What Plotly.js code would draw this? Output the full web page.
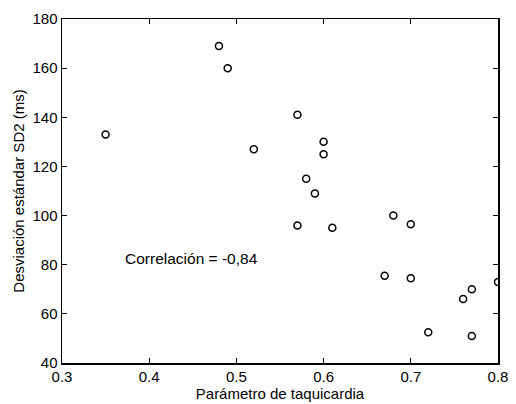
<!DOCTYPE html>
<html>
<head>
<meta charset="utf-8">
<script src="https://cdn.plot.ly/plotly-3.0.1.min.js"></script>
<style>html,body{margin:0;padding:0;background:#fff;}#chart{width:516px;height:404px;}</style>
</head>
<body>
<div id="chart"></div>
<script>
var taquicardia = [0.35, 0.48, 0.49, 0.52, 0.57, 0.60, 0.60, 0.58, 0.59, 0.57, 0.61, 0.68, 0.70, 0.67, 0.70, 0.80, 0.77, 0.76, 0.72, 0.77];
var sd2 = [133, 169, 160, 127, 141, 130, 125, 115, 109, 96, 95, 100, 96.5, 75.5, 74.5, 73, 70, 66, 52.5, 51];
var xTicks = [0.3, 0.4, 0.5, 0.6, 0.7, 0.8];
var xTickText = ['0.3', '0.4', '0.5', '0.6', '0.7', '0.8'];
var yTicks = [40, 60, 80, 100, 120, 140, 160, 180];
var correlationText = 'Correlación = -0,84';

var font = 'Liberation Sans, Arial, sans-serif';
var trace = {
  x: taquicardia, y: sd2, type: 'scatter', mode: 'markers',
  marker: {symbol: 'circle-open', size: 7, color: '#000', line: {width: 1.5, color: '#000'}},
  cliponaxis: true, hoverinfo: 'none'
};
var axisCommon = {
  showgrid: false, zeroline: false, showline: true, linecolor: '#000', linewidth: 1.5,
  mirror: 'ticks', ticks: 'inside', ticklen: 5, tickwidth: 1, tickcolor: '#000',
  tickfont: {family: font, size: 15, color: '#000'}
};
var layout = {
  width: 516, height: 404,
  margin: {l: 62, r: 18, t: 19, b: 41},
  paper_bgcolor: '#fff', plot_bgcolor: '#fff',
  showlegend: false,
  xaxis: Object.assign({}, axisCommon, {
    range: [0.3, 0.8], tickvals: xTicks, ticktext: xTickText, ticklabelstandoff: -1,
    title: {text: 'Parámetro de taquicardia', font: {family: font, size: 15, color: '#000'}, standoff: 2}
  }),
  yaxis: Object.assign({}, axisCommon, {
    range: [40, 180], tickvals: yTicks, ticklabelstandoff: 0,
    title: {text: 'Desviación estándar SD2 (ms)', font: {family: font, size: 15, color: '#000'}, standoff: 4}
  }),
  annotations: [{
    x: 0.37, y: 82.7, xref: 'x', yref: 'y', xanchor: 'left', yanchor: 'middle',
    text: correlationText, showarrow: false, font: {family: font, size: 15.5, color: '#000'}
  }]
};
Plotly.newPlot('chart', [trace], layout, {staticPlot: true, displayModeBar: false});
</script>
</body>
</html>
